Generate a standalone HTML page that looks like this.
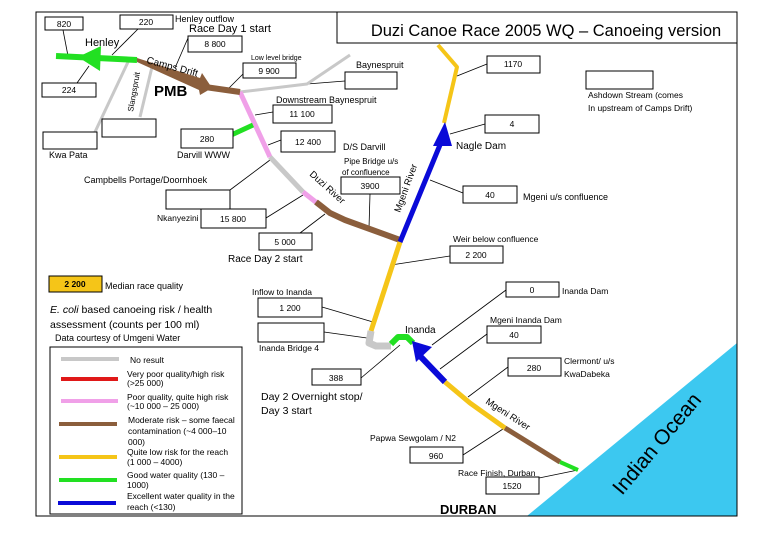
<!DOCTYPE html>
<html><head><meta charset="utf-8"><style>
html,body{margin:0;padding:0;background:#fff;}
svg{display:block;font-family:"Liberation Sans",sans-serif;}
.b{fill:#fff;stroke:#000;stroke-width:1;}
.t{font-size:8.5px;fill:#000;}
.l{stroke:#000;stroke-width:0.8;fill:none;}
.r{fill:none;stroke-linecap:butt;stroke-linejoin:round;}
</style></head><body>
<svg width="780" height="540" viewBox="0 0 780 540" xmlns="http://www.w3.org/2000/svg">
<rect x="0" y="0" width="780" height="540" fill="#fff"/>
<!-- ocean -->
<polygon points="527,516 737,343 737,516" fill="#3cc8f0"/>
<rect x="36" y="12" width="701" height="504" fill="none" stroke="#000" stroke-width="1"/>
<rect x="337" y="12" width="400" height="31" fill="#fff" stroke="#000" stroke-width="1"/>
<text x="546" y="36" font-size="16.5" text-anchor="middle">Duzi Canoe Race 2005 WQ – Canoeing version</text>

<!-- leader lines -->
<g class="l">
<line x1="63" y1="30" x2="68" y2="56"/>
<line x1="138" y1="29" x2="112" y2="55"/>
<line x1="188" y1="38" x2="175" y2="68"/>
<line x1="77" y1="83" x2="89" y2="66"/>
<line x1="244" y1="73" x2="228" y2="89"/>
<line x1="307" y1="84" x2="345" y2="81"/>
<line x1="273" y1="112" x2="255" y2="115"/>
<line x1="281" y1="140" x2="268" y2="145"/>
<line x1="230" y1="190" x2="270" y2="160"/>
<line x1="266" y1="218" x2="303" y2="195"/>
<line x1="300" y1="233" x2="325" y2="214"/>
<line x1="370" y1="194" x2="369" y2="228"/>
<line x1="457" y1="76" x2="487" y2="64"/>
<line x1="450" y1="134" x2="485" y2="124"/>
<line x1="430" y1="180" x2="463" y2="193"/>
<line x1="391" y1="265" x2="450" y2="256"/>
<line x1="322" y1="307" x2="373" y2="322"/>
<line x1="324" y1="332" x2="367" y2="338"/>
<line x1="361" y1="378" x2="400" y2="345"/>
<line x1="506" y1="290" x2="432" y2="345"/>
<line x1="487" y1="334" x2="440" y2="369"/>
<line x1="508" y1="367" x2="468" y2="397"/>
<line x1="463" y1="455" x2="503" y2="429"/>
<line x1="539" y1="478" x2="578" y2="470"/>
</g>

<!-- rivers -->
<g class="r">
<line x1="128" y1="62" x2="95" y2="132" stroke="#c8c8c8" stroke-width="3"/>
<line x1="152" y1="67" x2="140" y2="117" stroke="#c8c8c8" stroke-width="3"/>
<polyline points="240,92 307,84 350,55" stroke="#c8c8c8" stroke-width="3"/>
<line x1="56" y1="56" x2="137" y2="60" stroke="#22e022" stroke-width="6"/>
<line x1="240" y1="92" x2="270" y2="157" stroke="#f0a0e8" stroke-width="5"/>
<line x1="227" y1="137" x2="253" y2="125" stroke="#22e022" stroke-width="5"/>
<line x1="270" y1="157" x2="303" y2="192" stroke="#c8c8c8" stroke-width="5"/>
<line x1="303" y1="192" x2="317" y2="203" stroke="#f0a0e8" stroke-width="5"/>
<polyline points="316,202 330,213 345,220 400,240" stroke="#8b5e3c" stroke-width="6"/>
<polyline points="400,242 371,331" stroke="#f5c518" stroke-width="5"/>
<polyline points="371,331 369,343 376,346 391,346" stroke="#c8c8c8" stroke-width="7"/>
<polyline points="391,344 398,337 407,337 413,343" stroke="#22e022" stroke-width="6"/>
<line x1="400" y1="242" x2="442" y2="140" stroke="#0a0ad8" stroke-width="5"/>
<polyline points="444,123 457,67 438,45" stroke="#f5c518" stroke-width="4"/>
<line x1="420" y1="356" x2="445" y2="382" stroke="#0a0ad8" stroke-width="6"/>
<polyline points="445,382 470,403 505,428" stroke="#f5c518" stroke-width="5"/>
<line x1="505" y1="428" x2="560" y2="462" stroke="#8b5e3c" stroke-width="5"/>
<line x1="560" y1="462" x2="578" y2="470" stroke="#22e022" stroke-width="4"/>
<line x1="205" y1="87" x2="240" y2="92" stroke="#8b5e3c" stroke-width="6"/>
</g>
<polygon points="78,57 101,46 100,71" fill="#22e022"/>
<polygon points="137,58 200,78 202,73 212,88 200,95 199,90 137,62" fill="#8b5e3c"/>
<polygon points="445,122 433,146 452,146" fill="#0a0ad8"/>
<polygon points="412,341 432,347 416,362" fill="#0a0ad8"/>

<!-- boxes -->
<g class="b">
<rect x="45" y="17" width="38" height="13"/>
<rect x="120" y="15" width="53" height="14"/>
<rect x="188" y="36" width="54" height="16"/>
<rect x="42" y="83" width="54" height="14"/>
<rect x="243" y="63" width="53" height="15"/>
<rect x="102" y="119" width="54" height="18"/>
<rect x="43" y="132" width="54" height="17"/>
<rect x="273" y="105" width="59" height="18"/>
<rect x="181" y="129" width="52" height="19"/>
<rect x="281" y="131" width="54" height="21"/>
<rect x="166" y="190" width="64" height="19"/>
<rect x="201" y="209" width="65" height="19"/>
<rect x="259" y="233" width="53" height="17"/>
<rect x="341" y="177" width="59" height="17"/>
<rect x="345" y="72" width="52" height="17"/>
<rect x="487" y="56" width="53" height="17"/>
<rect x="586" y="71" width="67" height="18"/>
<rect x="485" y="115" width="54" height="18"/>
<rect x="463" y="186" width="54" height="17"/>
<rect x="450" y="246" width="53" height="17"/>
<rect x="258" y="298" width="64" height="19"/>
<rect x="258" y="323" width="66" height="19"/>
<rect x="312" y="369" width="49" height="16"/>
<rect x="506" y="282" width="53" height="15"/>
<rect x="487" y="326" width="54" height="17"/>
<rect x="508" y="358" width="53" height="18"/>
<rect x="410" y="447" width="53" height="16"/>
<rect x="486" y="477" width="53" height="17"/>
<rect x="50" y="347" width="192" height="167"/>
</g>
<rect x="49" y="276" width="53" height="16" fill="#f5c518" stroke="#000" stroke-width="1"/>

<!-- box numbers -->
<g class="t" text-anchor="middle" font-size="8">
<text x="64" y="27">820</text>
<text x="146" y="25">220</text>
<text x="215" y="47">8 800</text>
<text x="69" y="93">224</text>
<text x="269" y="74">9 900</text>
<text x="302" y="117">11 100</text>
<text x="207" y="142">280</text>
<text x="308" y="145">12 400</text>
<text x="233" y="222">15 800</text>
<text x="285" y="245">5 000</text>
<text x="370" y="189">3900</text>
<text x="513" y="67">1170</text>
<text x="512" y="127">4</text>
<text x="490" y="198">40</text>
<text x="476" y="258">2 200</text>
<text x="75" y="287" font-weight="bold">2 200</text>
<text x="290" y="311">1 200</text>
<text x="336" y="381">388</text>
<text x="532" y="293">0</text>
<text x="514" y="338">40</text>
<text x="534" y="371">280</text>
<text x="436" y="459">960</text>
<text x="512" y="489">1520</text>
</g>

<!-- labels -->
<g class="t">
<text x="175" y="22" font-size="9">Henley outflow</text>
<text x="189" y="32" font-size="11">Race Day 1 start</text>
<text x="85" y="46" font-size="11">Henley</text>
<text x="146" y="63" font-size="10" transform="rotate(15 146 63)">Camps Drift</text>
<text x="133" y="112" font-size="8" transform="rotate(-80 133 112)">Slangspruit</text>
<text x="154" y="96" font-size="15" font-weight="bold">PMB</text>
<text x="251" y="60" font-size="7">Low level bridge</text>
<text x="356" y="68" font-size="9">Baynespruit</text>
<text x="276" y="103" font-size="9">Downstream Baynespruit</text>
<text x="49" y="158" font-size="9">Kwa Pata</text>
<text x="177" y="158" font-size="9">Darvill WWW</text>
<text x="343" y="150" font-size="9">D/S Darvill</text>
<text x="344" y="164" font-size="8">Pipe Bridge u/s</text>
<text x="342" y="175" font-size="8">of confluence</text>
<text x="84" y="183" font-size="9">Campbells Portage/Doornhoek</text>
<text x="157" y="221" font-size="8.5">Nkanyezini</text>
<text x="309" y="175" font-size="9.5" transform="rotate(42 309 175)">Duzi River</text>
<text x="400" y="213" font-size="9.5" transform="rotate(-70 400 213)">Mgeni River</text>
<text x="456" y="149" font-size="10">Nagle Dam</text>
<text x="523" y="200" font-size="9">Mgeni u/s confluence</text>
<text x="588" y="98" font-size="8.5">Ashdown Stream (comes</text>
<text x="588" y="111" font-size="8.5">In  upstream of Camps Drift)</text>
<text x="453" y="242" font-size="8.5">Weir below confluence</text>
<text x="228" y="262" font-size="10">Race Day 2 start</text>
<text x="105" y="289" font-size="9">Median race quality</text>
<text x="252" y="295" font-size="8.5">Inflow to Inanda</text>
<text x="50" y="313" font-size="10.5"><tspan font-style="italic">E. coli</tspan> based  canoeing  risk / health</text>
<text x="50" y="328" font-size="10.5">assessment (counts per 100 ml)</text>
<text x="55" y="341" font-size="9">Data courtesy of Umgeni Water</text>
<text x="259" y="351" font-size="8.5">Inanda Bridge 4</text>
<text x="405" y="333" font-size="10">Inanda</text>
<text x="562" y="294" font-size="8.5">Inanda Dam</text>
<text x="490" y="323" font-size="8.5">Mgeni Inanda Dam</text>
<text x="564" y="364" font-size="8.5">Clermont/ u/s</text>
<text x="564" y="377" font-size="8.5">KwaDabeka</text>
<text x="261" y="400" font-size="10.5">Day 2 Overnight stop/</text>
<text x="261" y="414" font-size="10.5">Day 3 start</text>
<text x="485" y="403" font-size="9.5" transform="rotate(33 485 403)">Mgeni River</text>
<text x="370" y="441" font-size="8.5">Papwa Sewgolam / N2</text>
<text x="458" y="476" font-size="8.5">Race Finish, Durban</text>
<text x="440" y="514" font-size="13" font-weight="bold">DURBAN</text>
<text x="622" y="496" font-size="21" transform="rotate(-50 622 496)">Indian Ocean</text>
</g>

<!-- legend -->
<g class="r" stroke-width="4">
<line x1="61" y1="359" x2="119" y2="359" stroke="#c8c8c8"/>
<line x1="61" y1="379" x2="118" y2="379" stroke="#e01818"/>
<line x1="61" y1="401" x2="118" y2="401" stroke="#f0a0e8"/>
<line x1="59" y1="424" x2="117" y2="424" stroke="#8b5e3c"/>
<line x1="59" y1="457" x2="117" y2="457" stroke="#f5c518"/>
<line x1="59" y1="480" x2="117" y2="480" stroke="#22e022"/>
<line x1="58" y1="503" x2="116" y2="503" stroke="#0a0ad8"/>
</g>
<g class="t" font-size="7">
<text x="130" y="363">No result</text>
<text x="127" y="377">Very poor quality/high risk</text>
<text x="127" y="386">(&gt;25 000)</text>
<text x="127" y="400">Poor quality, quite high risk</text>
<text x="127" y="409">(~10 000 – 25 000)</text>
<text x="128" y="423">Moderate risk – some faecal</text>
<text x="128" y="434">contamination (~4 000–10</text>
<text x="128" y="445">000)</text>
<text x="127" y="455">Quite low risk for the reach</text>
<text x="127" y="465">(1 000 – 4000)</text>
<text x="127" y="478">Good water quality (130 –</text>
<text x="127" y="488">1000)</text>
<text x="127" y="499">Excellent water quality in the</text>
<text x="127" y="510">reach (&lt;130)</text>
</g>
</svg>
</body></html>
